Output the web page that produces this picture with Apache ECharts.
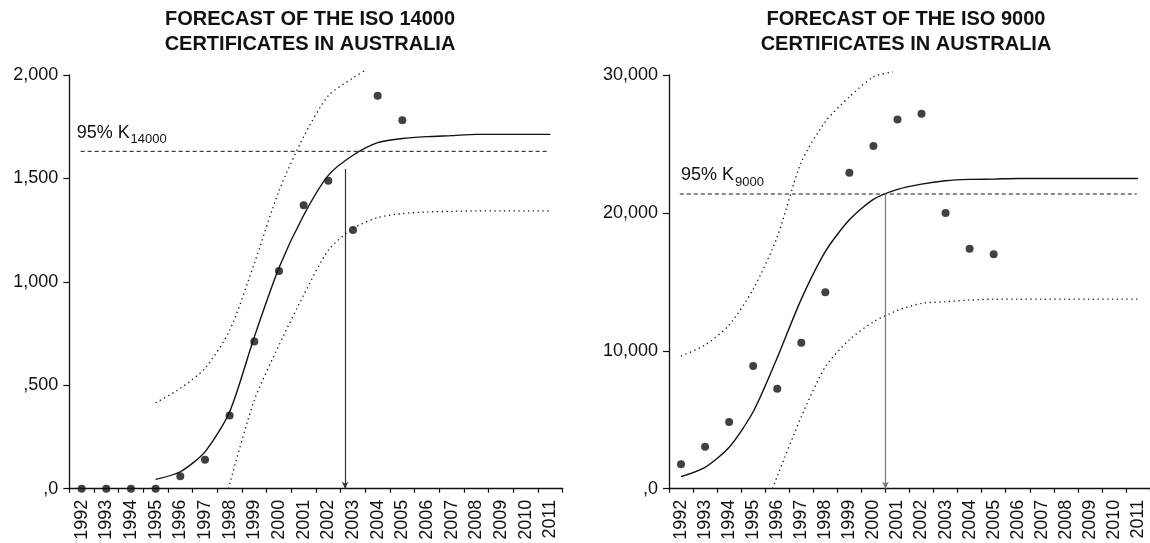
<!DOCTYPE html>
<html>
<head>
<meta charset="utf-8">
<script src="https://cdn.jsdelivr.net/npm/echarts@6/dist/echarts.min.js"></script>
<style>
html,body{margin:0;padding:0;background:#fff;}
#c{width:1150px;height:543px;}
</style>
</head>
<body>
<div id="c"></div>
<script>
// ---------- DATA ----------
const years = ['1992','1993','1994','1995','1996','1997','1998','1999','2000','2001','2002','2003','2004','2005','2006','2007','2008','2009','2010','2011'];
const leftTickLabels = [',0', ',500', '1,000', '1,500', '2,000'];
const rightTickLabels = [',0', '10,000', '20,000', '30,000'];

// ISO 14000 (left)
const leftDotYears = [1992,1993,1994,1995,1996,1997,1998,1999,2000,2001,2002,2003,2004,2005];
const leftDotVals  = [0,0,0,0,60,140,354,712,1053,1370,1489,1251,1900,1781];
const leftFitYears = [1995,1996,1997,1998,1999,2000,2001,2002,2003,2004,2005,2006,2007,2008,2009,2010,2011];
const leftFitVals  = [45,82,178,372,734,1068,1322,1515,1612,1673,1693,1702,1707,1713,1713,1713,1713];
const leftUpYears  = [1995,1996,1997,1998,1999,2000,2001,2002,2003,2003.55];
const leftUpVals   = [415,485,582,765,1089,1440,1702,1900,1986,2026];
const leftLoYears  = [1997.95,1998,1999,2000,2001,2002,2003,2004,2005,2006,2007,2008,2009,2010,2011];
const leftLoVals   = [0,25,428,694,936,1153,1258,1311,1330,1338,1341,1343,1343,1343,1343];
const leftK95 = 1631;
const leftKSpan = [1991.96, 2010.86];
const leftArrowYear = 2002.68;
const leftArrowTop = 1546;

// ISO 9000 (right)
const rightDotYears = [1992,1993,1994,1995,1996,1997,1998,1999,2000,2001,2002,2003,2004,2005];
const rightDotVals  = [1770,3045,4836,8896,7250,10585,14239,22910,24846,26781,27190,19988,17400,16994];
const rightFitYears = [1992,1993,1994,1995,1996,1997,1998,1999,2000,2001,2002,2003,2004,2005,2006,2007,2008,2009,2010,2011];
const rightFitVals  = [870,1550,3000,5580,9500,13750,17200,19500,20980,21705,22090,22330,22430,22450,22500,22500,22500,22500,22500,22500];
const rightUpYears  = [1992,1993,1994,1995,1996,1997,1998,1999,2000,2000.8];
const rightUpVals   = [9620,10420,11870,14455,18250,23680,26610,28420,29870,30230];
const rightLoYears  = [1995.8,1996,1997,1998,1999,2000,2001,2002,2003,2004,2005,2006,2007,2008,2009,2010,2011];
const rightLoVals   = [0,900,5220,8845,10800,12100,12930,13440,13560,13680,13750,13750,13750,13750,13750,13750,13750];
const rightK95 = 21370;
const rightKSpan = [1991.95, 2010.95];
const rightArrowYear = 2000.5;
const rightArrowTop = 21420;

// ---------- BUILD ----------
const zip = (xs, ys) => xs.map((x, i) => [x, ys[i]]);
const FONT = '"Liberation Sans", Arial, Helvetica, sans-serif';
const INK = '#111';

function catAxis(gi) {
  return {
    type: 'category', gridIndex: gi, data: years, boundaryGap: true,
    axisLine: { show: true, lineStyle: { color: INK, width: 1.3 } },
    axisTick: { show: true, length: 4, lineStyle: { color: INK, width: 1.2 } },
    axisLabel: { rotate: 90, interval: 0, fontSize: 18, margin: 11, color: INK, fontFamily: FONT },
    splitLine: { show: false }
  };
}
function valXAxis(gi) {
  return { type: 'value', gridIndex: gi, min: 1991.5, max: 2011.5, show: false, splitLine: { show: false } };
}
function yAx(gi, max, interval, labels) {
  return {
    type: 'value', gridIndex: gi, min: 0, max: max, interval: interval,
    axisLine: { show: true, lineStyle: { color: INK, width: 1.3 } },
    axisTick: { show: true, length: 6, lineStyle: { color: INK, width: 1.2 } },
    axisLabel: { fontSize: 18, margin: 11, color: INK, fontFamily: FONT,
      formatter: v => labels[Math.round(v / interval)] },
    splitLine: { show: false }
  };
}
function lineS(xi, yi, data, style) {
  return {
    type: 'line', xAxisIndex: xi, yAxisIndex: yi, data: data, showSymbol: false, symbol: 'none',
    smooth: 0.25, clip: false, silent: true,
    lineStyle: Object.assign({ color: INK, width: 1.4 }, style)
  };
}
function dotsS(xi, yi, data) {
  return { type: 'scatter', xAxisIndex: xi, yAxisIndex: yi, data: data, symbolSize: 8,
    itemStyle: { color: INK }, silent: true, clip: false };
}
function kLineS(xi, yi, span, k, arrowX, arrowTop, arrowColor) {
  return {
    type: 'line', xAxisIndex: xi, yAxisIndex: yi, data: [[span[0], k], [span[1], k]],
    showSymbol: false, symbol: 'none', silent: true,
    lineStyle: { color: INK, width: 1, type: [4, 3] },
    markLine: {
      silent: true, symbol: ['none', 'arrow'], symbolSize: [5, 7], animation: false,
      label: { show: false },
      lineStyle: { type: 'solid', color: arrowColor, width: 1.2 },
      data: [[{ coord: [arrowX, arrowTop] }, { coord: [arrowX, 0] }]]
    }
  };
}

const chart = echarts.init(document.getElementById('c'), null, { renderer: 'canvas' });
chart.setOption({
  animation: false,
  backgroundColor: '#fff',
  title: [
    { text: 'FORECAST OF THE ISO 14000\nCERTIFICATES IN AUSTRALIA', left: 310, top: 7, textAlign: 'center', padding: 0,
      textStyle: { fontSize: 20, fontWeight: 'bold', lineHeight: 25, color: INK, fontFamily: FONT } },
    { text: 'FORECAST OF THE ISO 9000\nCERTIFICATES IN AUSTRALIA', left: 906, top: 7, textAlign: 'center', padding: 0,
      textStyle: { fontSize: 20, fontWeight: 'bold', lineHeight: 25, color: INK, fontFamily: FONT } }
  ],
  grid: [
    { left: 69.3, top: 75, width: 493.4, height: 413.7, containLabel: false },
    { left: 669, top: 75, width: 486, height: 413.7, containLabel: false }
  ],
  xAxis: [catAxis(0), valXAxis(0), catAxis(1), valXAxis(1)],
  yAxis: [yAx(0, 2000, 500, leftTickLabels), yAx(1, 30000, 10000, rightTickLabels)],
  series: [
    kLineS(1, 0, leftKSpan, leftK95, leftArrowYear, leftArrowTop, '#333'),
    lineS(1, 0, zip(leftUpYears, leftUpVals), { width: 1.3, type: [1.3, 3.5] }),
    lineS(1, 0, zip(leftLoYears, leftLoVals), { width: 1.3, type: [1.3, 3.5] }),
    lineS(1, 0, zip(leftFitYears, leftFitVals), {}),
    dotsS(1, 0, zip(leftDotYears, leftDotVals)),

    kLineS(3, 1, rightKSpan, rightK95, rightArrowYear, rightArrowTop, '#777'),
    lineS(3, 1, zip(rightUpYears, rightUpVals), { width: 1.3, type: [1.3, 3.5] }),
    lineS(3, 1, zip(rightLoYears, rightLoVals), { width: 1.3, type: [1.3, 3.5] }),
    lineS(3, 1, zip(rightFitYears, rightFitVals), {}),
    dotsS(3, 1, zip(rightDotYears, rightDotVals))
  ],
  graphic: [
    { type: 'text', left: 76.7, top: 124, silent: true,
      style: { text: '95% K', fontSize: 18, fill: INK, fontFamily: FONT } },
    { type: 'text', left: 130.5, top: 133, silent: true,
      style: { text: '14000', fontSize: 13, fill: INK, fontFamily: FONT } },
    { type: 'text', left: 681, top: 166.5, silent: true,
      style: { text: '95% K', fontSize: 18, fill: INK, fontFamily: FONT } },
    { type: 'text', left: 735, top: 175.5, silent: true,
      style: { text: '9000', fontSize: 13, fill: INK, fontFamily: FONT } }
  ]
});
</script>
</body>
</html>
